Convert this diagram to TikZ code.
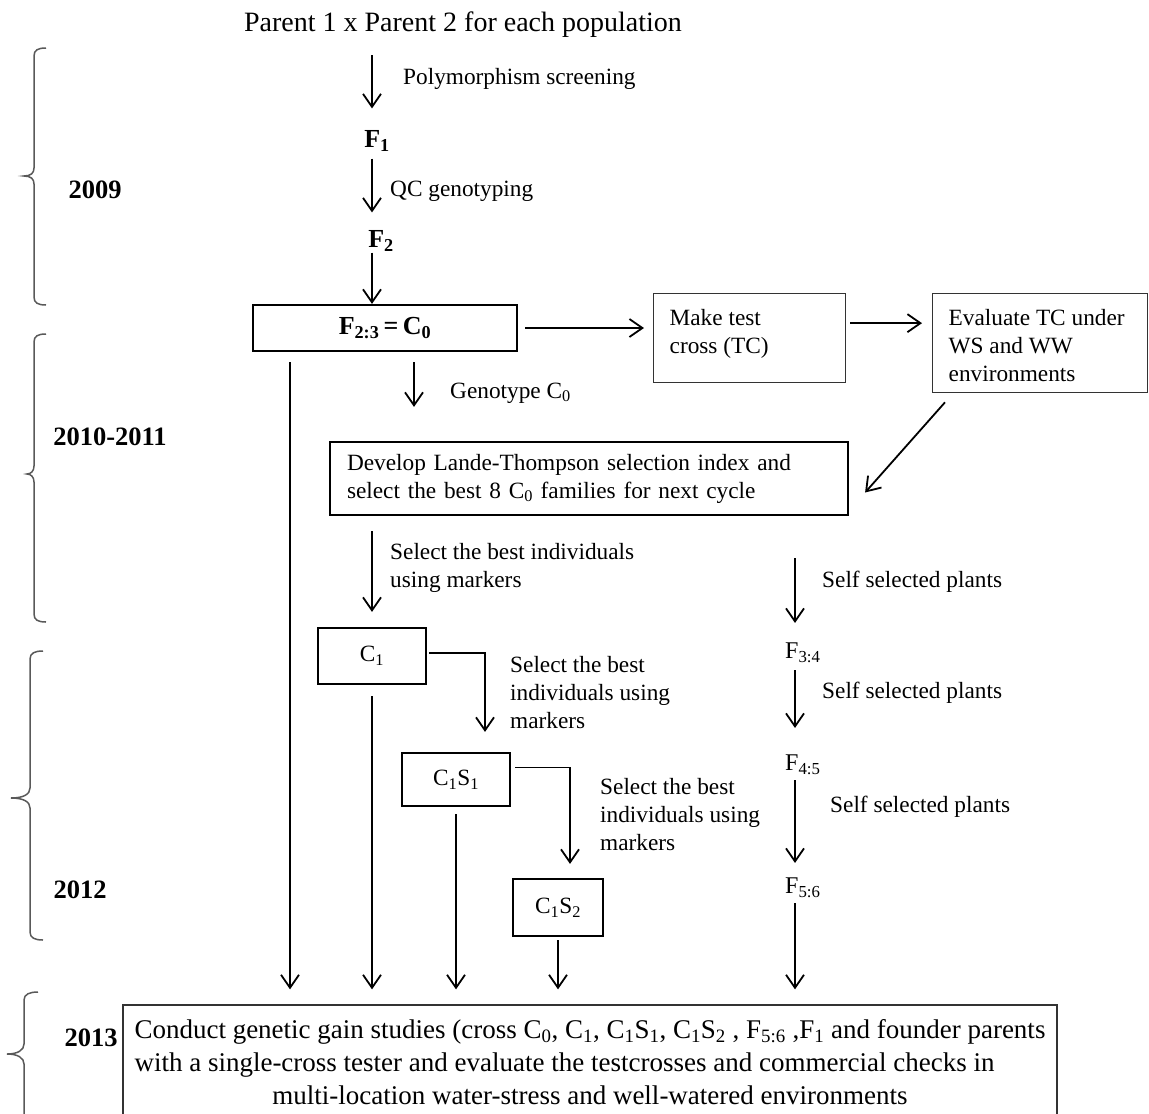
\documentclass[tikz,border=0pt]{standalone}
\usepackage{fontspec}
\setmainfont{Liberation Serif}
\usetikzlibrary{positioning,calc,arrows.meta}

\tikzset{
  flow/.style={-{Straight Barb[length=13pt,width=18pt]}, line width=1.8pt},
  stepbox/.style={draw=black, line width=2.2pt, inner sep=0pt},
  cbox/.style={stepbox, font=\fontsize{23.3}{28}\selectfont},
  thinbox/.style={draw=black!80, line width=1.3pt},
  lbl/.style={inner sep=0pt, font=\fontsize{23.3}{28}\selectfont, align=left},
  gen/.style={inner sep=0pt, font=\fontsize{26}{30}\selectfont\bfseries},
  fgen/.style={inner sep=0pt, font=\fontsize{24}{28}\selectfont},
  yearlbl/.style={inner sep=0pt, font=\fontsize{26.5}{30}\selectfont\bfseries},
  yearbrace/.style={draw=black!65, line width=1.5pt},
}

\begin{document}
\begin{tikzpicture}[x=1pt,y=-1pt]
	\useasboundingbox (0,0) rectangle (1149,1114);

	% columns of the arrows
	\coordinate (colA) at (290,0);
	\coordinate (colF) at (372,0);
	\coordinate (colG) at (414,0);
	\coordinate (colB) at (485,0);
	\coordinate (colC) at (570,0);
	\coordinate (colR) at (795,0);

	\node[inner sep=0pt,font=\fontsize{28}{32}\selectfont] (title) at (463,25) {Parent 1 x Parent 2 for each population};
	\node[gen] (f1) at (377,141) {F\textsubscript{1}};
	\node[gen] (f2) at (381,241) {F\textsubscript{2}};
	\node[stepbox,font=\fontsize{26}{30}\selectfont\bfseries,minimum width=264pt,minimum height=46pt] (f23) at (385,328) {F\textsubscript{2:3}\,=\,C\textsubscript{0}};
	\node[thinbox,anchor=north west,inner sep=16pt,font=\fontsize{23.3}{28}\selectfont] (tc) at (653,293) {\parbox[c][57pt][t]{160pt}{Make test\\cross (TC)}};
	\node[thinbox,anchor=north west,inner sep=16pt,font=\fontsize{23.3}{28}\selectfont] (ev) at (932,293) {\parbox[c][67pt][t]{183pt}{Evaluate TC under\\WS and WW\\environments}};
	\node[cbox,minimum height=73pt,text width=484pt,inner xsep=17pt,align=left] (lande) at (589,478.5) {Develop Lande-Thompson selection index and\\select the best 8 C\textsubscript{0} families for next cycle};
	\node[cbox,minimum width=108pt,minimum height=56pt] (c1) at (372,656) {C\textsubscript{1}};
	\node[cbox,minimum width=108pt,minimum height=53pt] (c1s1) at (456,779.5) {C\textsubscript{1}S\textsubscript{1}};
	\node[cbox,minimum width=90pt,minimum height=57pt] (c1s2) at (558,907.5) {C\textsubscript{1}S\textsubscript{2}};
	\node[fgen,anchor=west] (f34) at (785,653) {F\textsubscript{3:4}};
	\node[fgen,anchor=west] (f45) at (785,765) {F\textsubscript{4:5}};
	\node[fgen,anchor=west] (f56) at (785,888) {F\textsubscript{5:6}};
	\node[thinbox,minimum width=934pt,minimum height=120pt,inner xsep=7pt,font=\fontsize{27}{33}\selectfont] (final) at (590,1065) {\begin{tabular}{@{}l@{}}
		Conduct genetic gain studies (cross C\textsubscript{0}, C\textsubscript{1}, C\textsubscript{1}S\textsubscript{1}, C\textsubscript{1}S\textsubscript{2} , F\textsubscript{5:6} ,F\textsubscript{1} and founder parents\\
		with a single-cross tester and evaluate the testcrosses and commercial checks in\\
		\multicolumn{1}{@{}c@{}}{multi-location water-stress and well-watered environments}
	\end{tabular}};

	% labels
	\node[lbl,anchor=west] (polylbl) at (403,79) {Polymorphism screening};
	\node[lbl,anchor=west] (qclbl) at (390,191) {QC genotyping};
	\node[lbl,anchor=west] (genolbl) at (450,393) {Genotype C\textsubscript{0}};
	\node[lbl,anchor=west] (sel1lbl) at (390,567.5) {Select the best individuals\\using markers};
	\node[lbl,anchor=west] (sel2lbl) at (510,693) {Select the best\\individuals using\\markers};
	\node[lbl,anchor=west] (sel3lbl) at (600,815) {Select the best\\individuals using\\markers};
	\node[lbl,anchor=west] (selfa) at (822,582) {Self selected plants};
	\node[lbl,anchor=west] (selfb) at (822,693) {Self selected plants};
	\node[lbl,anchor=west] (selfc) at (830,807) {Self selected plants};

	\node[yearlbl] (y09) at (95,190) {2009};
	\node[yearlbl] (y1011) at (110,437) {2010-2011};
	\node[yearlbl] (y12) at (80,890) {2012};
	\node[yearlbl] (y13) at (91,1038) {2013};

	% arrows
	\draw[flow,shorten <=17pt,shorten >=22pt] (colF |- title.south)--(colF |- f1.north);
	\draw[flow,shorten <=7pt,shorten >=18pt] (colF |- f1.south)--(colF |- f2.north);
	\draw[flow,shorten <=1pt] (colF |- f2.south)--(colF |- f23.north);
	\draw[flow,shorten <=7pt,shorten >=9pt] (f23.east)--(f23.east -| tc.west);
	\draw[flow,shorten <=4pt,shorten >=10pt] ($(tc.east)+(0,-15)$)--($(tc.east -| ev.west)+(0,-15)$);
	\draw[flow] ($(ev.south west)+(13,9)$)--($(lande.east)+(16,14)$);
	\draw[flow,shorten <=10pt,shorten >=34pt] (colG |- f23.south)--(colG |- lande.north);
	\draw[flow,shorten <=15pt,shorten >=15pt] (c1.north |- lande.south)--(c1.north);
	\draw[flow,shorten >=20pt] ($(c1.east)+(2,-3)$) -| (colB |- c1s1.north);
	\draw[flow,shorten >=14pt] ($(c1s1.east)+(4,-12)$) -| (colC |- c1s2.north);

	\draw[flow,shorten <=42pt,shorten >=20pt] (colR |- lande.south)--(colR |- f34.north);
	\draw[flow,shorten <=7pt,shorten >=27pt] (colR |- f34.south)--(colR |- f45.north);
	\draw[flow,shorten <=5pt,shorten >=15pt] (colR |- f45.south)--(colR |- f56.north);
	\draw[flow,shorten <=5pt,shorten >=15pt] (colR |- f56.south)--(colR |- final.north);

	\draw[flow,shorten <=10pt,shorten >=15pt] (colA |- f23.south)--(colA |- final.north);
	\draw[flow,shorten <=11pt,shorten >=15pt] (c1.south)--(c1.south |- final.north);
	\draw[flow,shorten <=7pt,shorten >=15pt] (c1s1.south)--(c1s1.south |- final.north);
	\draw[flow,shorten <=3pt,shorten >=15pt] (c1s2.south)--(c1s2.south |- final.north);

	% year braces
	\draw[yearbrace] (46,48) .. controls (38,48) and (34,50) .. (34,56)--(34,168) .. controls (34,173) and (31,176) .. (24,176) .. controls (31,176) and (34,179) .. (34,184)--(34,297) .. controls (34,303) and (38,305) .. (46,305);
	\draw[yearbrace] (46,334) .. controls (38,334) and (34,336) .. (34,342)--(34,466) .. controls (34,471) and (31,474) .. (27,474) .. controls (31,474) and (34,477) .. (34,482)--(34,614) .. controls (34,620) and (38,622) .. (46,622);
	\draw[yearbrace] (43,651) .. controls (35,651) and (30,653) .. (30,659)--(30,788) .. controls (30,794) and (24,798) .. (11,798) .. controls (24,798) and (30,802) .. (30,808)--(30,932) .. controls (30,938) and (35,940) .. (43,940);
	\draw[yearbrace] (38,992) .. controls (30,992) and (24,994) .. (24,1000)--(24,1044) .. controls (24,1050) and (18,1054) .. (7,1054) .. controls (18,1054) and (24,1058) .. (24,1064)--(24,1130);
\end{tikzpicture}
\end{document}
